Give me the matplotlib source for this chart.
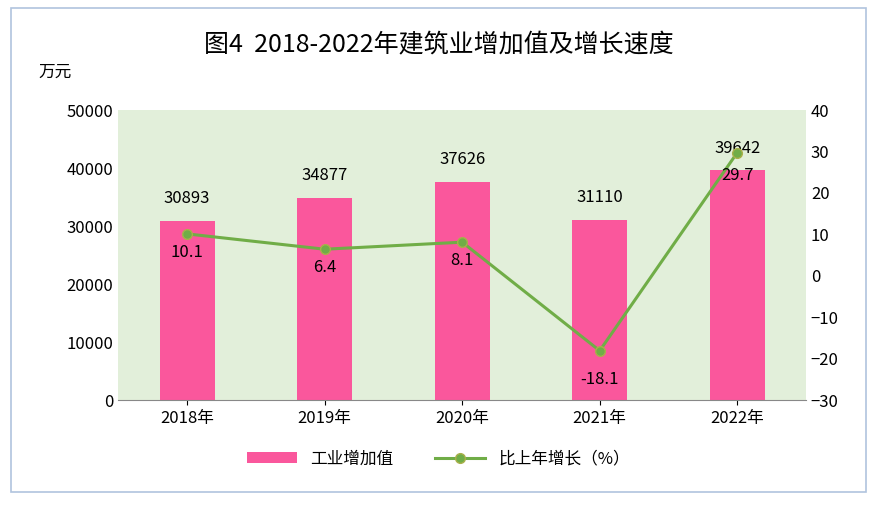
from matplotlib import pyplot as plt
from matplotlib.patches import Rectangle

plt.rcParams['font.family'] = ['Noto Sans CJK SC', 'DejaVu Sans']

years = ["2018年", "2019年", "2020年", "2021年", "2022年"]
value = [30893, 34877, 37626, 31110, 39642]
growth = [10.1, 6.4, 8.1, -18.1, 29.7]

fig = plt.figure(figsize=(8.77, 5.07), dpi=100)
fig.patches.append(Rectangle((0.012, 0.03), 0.975, 0.955, transform=fig.transFigure,
                             fill=False, edgecolor="#b0c4de", linewidth=1.2))
ax = fig.add_axes([0.135, 0.211, 0.784, 0.572])
ax.set_facecolor("#e2efda")
x = range(len(years))
ax.bar(x, value, width=0.4, color="#fa579c", label="工业增加值", zorder=2)
for i, v in enumerate(value):
    ax.text(i, v + 3800, str(v), ha="center", va="center", fontsize=12)
ax.set_ylim(0, 50000)
ax.set_xlim(-0.5, 4.5)
ax.set_xticks(list(x))
ax.set_xticklabels(years, fontsize=12)
ax.tick_params(axis="y", labelsize=12, length=0)
for s in ["top", "right", "left"]:
    ax.spines[s].set_visible(False)
ax.spines["bottom"].set_color("#888888")

ax2 = ax.twinx()
ax2.plot(list(x), growth, color="#70ad47", linewidth=2.2, marker="o", markersize=7,
         markerfacecolor="#70ad47", markeredgecolor="#a9b04a", label="比上年增长（%）")
offs = [-4.5, -4.5, -4.5, -7, -5.5]  # label below each point
for i, g in enumerate(growth):
    ax2.text(i, g + offs[i], str(g), ha="center", va="center", fontsize=12)
ax2.set_ylim(-30, 40)
ax2.tick_params(axis="y", labelsize=12, length=0)
for s in ["top", "right", "left", "bottom"]:
    ax2.spines[s].set_visible(False)

fig.text(0.5, 0.91, "图4  2018-2022年建筑业增加值及增长速度", ha="center", va="center", fontsize=18)
fig.text(0.063, 0.858, "万元", ha="center", va="center", fontsize=12)
h1, l1 = ax.get_legend_handles_labels()
h2, l2 = ax2.get_legend_handles_labels()
fig.legend(h1 + h2, l1 + l2, loc="center", bbox_to_anchor=(0.5, 0.095), ncol=2,
           frameon=False, fontsize=12, handlelength=3, columnspacing=2.5)

plt.savefig("out.png", dpi=100)
